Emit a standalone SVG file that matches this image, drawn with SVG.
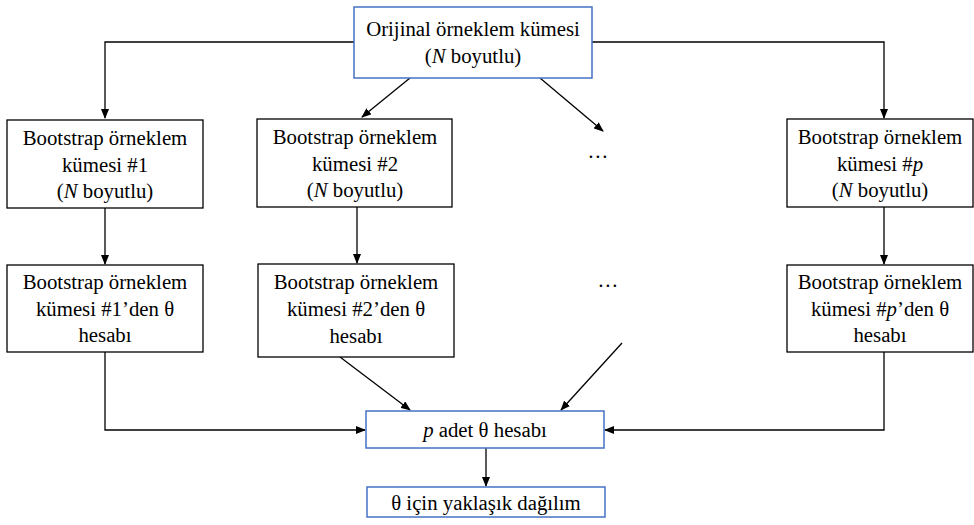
<svg xmlns="http://www.w3.org/2000/svg" width="974" height="525" viewBox="0 0 974 525">
<defs>
<marker id="ah" markerWidth="10" markerHeight="8" refX="9" refY="4" orient="auto" markerUnits="userSpaceOnUse">
<path d="M0,0 L10,4 L0,8 Z" fill="#000"/>
</marker>
<style>
.box{fill:#fff;stroke:#000;stroke-width:1.3}
.bbox{fill:#fff;stroke:#4472C4;stroke-width:1.5}
text{font-size:20.8px;fill:#000;text-anchor:middle}
.c{fill:none;stroke:#000;stroke-width:1.3;marker-end:url(#ah)}
</style>
</defs>
<rect width="974" height="525" fill="#fff"/>
<g id="connectors">
<path class="c" d="M354,42 H105 V118"/>
<path class="c" d="M592,42 H884 V118"/>
<path class="c" d="M410,78 L362,117"/>
<path class="c" d="M540,78 L603,131"/>
<path class="c" d="M105,208 V264"/>
<path class="c" d="M357,207 V263"/>
<path class="c" d="M884,207 V264"/>
<path class="c" d="M105,352 V430 H365"/>
<path class="c" d="M884,352 V430 H605"/>
<path class="c" d="M340,357 L410,410"/>
<path class="c" d="M622,343 L561,410"/>
<path class="c" d="M486,448 V486"/>
</g>
<g font-family="'Liberation Serif', 'Times New Roman', serif">
<g id="orig">
<rect class="bbox" x="354" y="7" width="238" height="71"/>
<text x="473" y="36">Orijinal örneklem kümesi</text>
<text x="473" y="63">(<tspan font-style="italic">N</tspan> boyutlu)</text>
</g>
<g id="bs1">
<rect class="box" x="7" y="120" width="196" height="88"/>
<text x="105" y="145">Bootstrap örneklem</text>
<text x="105" y="172">kümesi #1</text>
<text x="105" y="198">(<tspan font-style="italic">N</tspan> boyutlu)</text>
</g>
<g id="bs2">
<rect class="box" x="257" y="119" width="195" height="88"/>
<text x="355" y="144">Bootstrap örneklem</text>
<text x="355" y="171">kümesi #2</text>
<text x="355" y="197">(<tspan font-style="italic">N</tspan> boyutlu)</text>
</g>
<g id="dots1"><text x="598" y="158">…</text></g>
<g id="bsp">
<rect class="box" x="787" y="119" width="186" height="88"/>
<text x="880" y="144">Bootstrap örneklem</text>
<text x="880" y="171">kümesi #<tspan font-style="italic">p</tspan></text>
<text x="880" y="197">(<tspan font-style="italic">N</tspan> boyutlu)</text>
</g>
<g id="th1">
<rect class="box" x="7" y="265" width="196" height="87"/>
<text x="105" y="289">Bootstrap örneklem</text>
<text x="105" y="316">kümesi #1’den θ</text>
<text x="105" y="342">hesabı</text>
</g>
<g id="th2">
<rect class="box" x="258" y="264" width="196" height="93"/>
<text x="356" y="289">Bootstrap örneklem</text>
<text x="356" y="316">kümesi #2’den θ</text>
<text x="356" y="343">hesabı</text>
</g>
<g id="dots2"><text x="608" y="287">…</text></g>
<g id="thp">
<rect class="box" x="787" y="265" width="186" height="87"/>
<text x="880" y="289">Bootstrap örneklem</text>
<text x="880" y="316">kümesi #<tspan font-style="italic">p</tspan>’den θ</text>
<text x="880" y="342">hesabı</text>
</g>
<g id="padet">
<rect class="bbox" x="366" y="411" width="238" height="37"/>
<text x="485" y="437"><tspan font-style="italic">p</tspan> adet θ hesabı</text>
</g>
<g id="final">
<rect class="bbox" x="367" y="487" width="238" height="30"/>
<text x="486" y="510">θ için yaklaşık dağılım</text>
</g>
</g>
</svg>
